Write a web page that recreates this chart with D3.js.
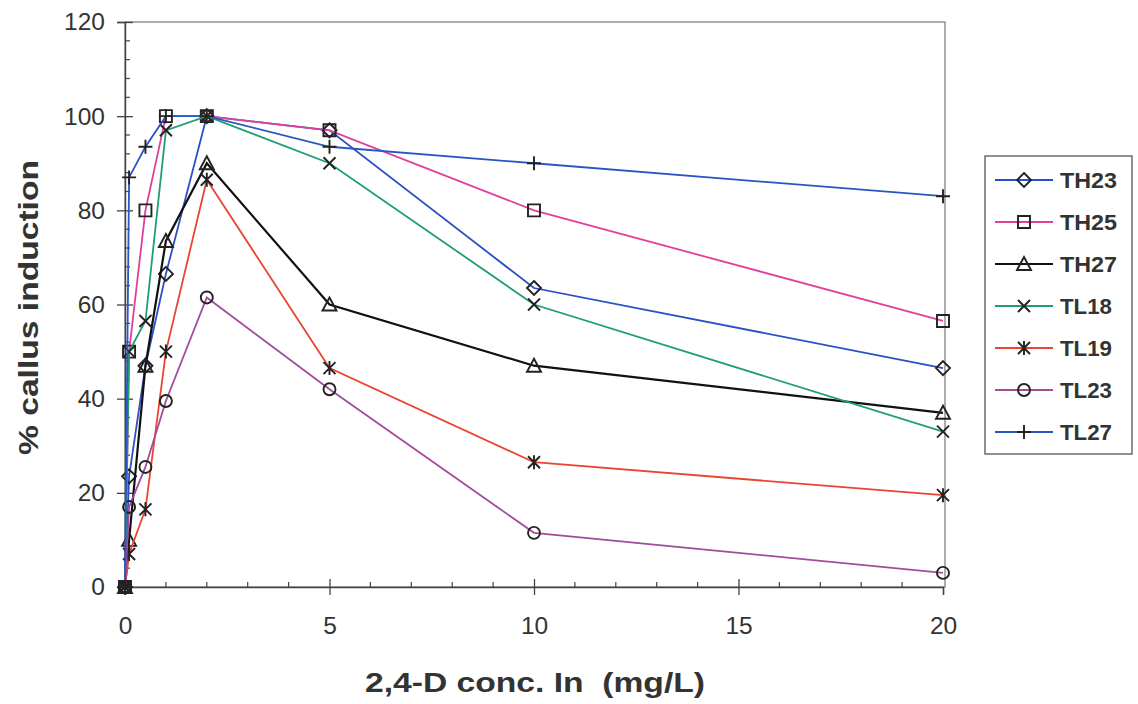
<!DOCTYPE html>
<html>
<head>
<meta charset="utf-8">
<script src="https://cdn.jsdelivr.net/npm/d3@7"></script>
<style>
  body { margin: 0; background: #fff; }
  svg { display: block; font-family: "Liberation Sans", Arial, sans-serif; }
</style>
</head>
<body>
<div id="chart"></div>
<script>
// Concentrations of 2,4-D (mg/L)
const conc = [0, 0.1, 0.5, 1, 2, 5, 10, 20];

// % callus induction per genotype
const TH23 = [0, 23.5, 47, 66.5, 100, 97, 63.5, 46.5];
const TH25 = [0, 50, 80, 100, 100, 97, 80, 56.5];
const TH27 = [0, 10, 47, 73.5, 90, 60, 47, 37];
const TL18 = [0, 50, 56.5, 97, 100, 90, 60, 33];
const TL19 = [0, 7, 16.5, 50, 86.5, 46.5, 26.5, 19.5];
const TL23 = [0, 17, 25.5, 39.5, 61.5, 42, 11.5, 3];
const TL27 = [0, 87, 93.5, 100, 100, 93.5, 90, 83];

const seriesNames = ["TH23", "TH25", "TH27", "TL18", "TL19", "TL23", "TL27"];
const seriesValues = [TH23, TH25, TH27, TL18, TL19, TL23, TL27];
const colors = ["#2b4fc4", "#e0409c", "#111111", "#1f9e72", "#ea4530", "#a24c9c", "#2a55c2"];
const markers = ["diamond", "square", "triangle", "cross", "star", "circle", "plus"];

const xTicks = [0, 5, 10, 15, 20];
const yTicks = [0, 20, 40, 60, 80, 100, 120];

const width = 1138, height = 704;
const plot = { left: 125, right: 945, top: 22, bottom: 587 };

const x = d3.scaleLinear().domain([0, 20]).range([plot.left, plot.left + 818]);
const y = d3.scaleLinear().domain([0, 120]).range([plot.bottom, plot.top]);

const svg = d3.select("#chart").append("svg")
    .attr("width", width)
    .attr("height", height);

// plot frame
svg.append("rect")
    .attr("x", plot.left).attr("y", plot.top)
    .attr("width", plot.right - plot.left).attr("height", plot.bottom - plot.top)
    .attr("fill", "none").attr("stroke", "#777").attr("stroke-width", 1.2);

// minor ticks (inside)
const axisColor = "#444";
svg.append("g").selectAll("line")
    .data(d3.range(0, 121, 4).filter(v => v % 20 !== 0))
    .join("line")
    .attr("x1", plot.left).attr("x2", plot.left + 5)
    .attr("y1", d => y(d)).attr("y2", d => y(d))
    .attr("stroke", axisColor).attr("stroke-width", 1.2);

svg.append("g").selectAll("line")
    .data(d3.range(1, 20).filter(v => v % 5 !== 0))
    .join("line")
    .attr("x1", d => x(d)).attr("x2", d => x(d))
    .attr("y1", plot.bottom).attr("y2", plot.bottom - 5)
    .attr("stroke", axisColor).attr("stroke-width", 1.2);

// axes with major ticks crossing
const yAxis = svg.append("g")
    .attr("transform", `translate(${plot.left},0)`)
    .call(d3.axisLeft(y).tickValues(yTicks).tickSize(8).tickPadding(12));
yAxis.selectAll(".tick line").attr("x2", 8).attr("x1", -8);

const xAxis = svg.append("g")
    .attr("transform", `translate(0,${plot.bottom})`)
    .call(d3.axisBottom(x).tickValues(xTicks).tickSize(8).tickPadding(22));
xAxis.selectAll(".tick line").attr("y1", -8).attr("y2", 8);

[yAxis, xAxis].forEach(a => {
  a.select(".domain").attr("stroke", axisColor).attr("stroke-width", 1.4);
  a.selectAll(".tick line").attr("stroke", axisColor).attr("stroke-width", 1.3);
  a.selectAll(".tick text").attr("font-size", 24.5).attr("fill", "#333")
      .attr("font-family", "Liberation Sans, Arial, sans-serif");
});
xAxis.selectAll(".tick line").filter(d => d === 20).attr("y1", 0);

// marker shapes
function markerPath(type, s) {
  const h = s / 2;
  switch (type) {
    case "diamond": return `M0,${-h - 1}L${h + 1},0L0,${h + 1}L${-h - 1},0Z`;
    case "square": return `M${-h},${-h}H${h}V${h}H${-h}Z`;
    case "triangle": return `M0,${-h - 1}L${h + 1},${h}L${-h - 1},${h}Z`;
    case "cross": return `M${-h},${-h}L${h},${h}M${h},${-h}L${-h},${h}`;
    case "star": return `M${-h},${-h}L${h},${h}M${h},${-h}L${-h},${h}M0,${-h - 1}V${h + 1}`;
    case "plus": return `M${-h - 1},0H${h + 1}M0,${-h - 1}V${h + 1}`;
  }
}
function drawMarker(g, type, cx, cy) {
  const s = 12;
  if (type === "circle") {
    g.append("circle").attr("cx", cx).attr("cy", cy).attr("r", 6)
        .attr("fill", "none").attr("stroke", "#222").attr("stroke-width", 1.9);
  } else {
    g.append("path").attr("d", markerPath(type, s))
        .attr("transform", `translate(${cx},${cy})`)
        .attr("fill", "none").attr("stroke", "#222").attr("stroke-width", 1.9);
  }
}

const line = d3.line().x(d => x(d[0])).y(d => y(d[1]));

seriesNames.forEach((name, i) => {
  const pts = conc.map((c, j) => [c, seriesValues[i][j]]);
  const g = svg.append("g");
  g.append("path").datum(pts)
      .attr("d", line)
      .attr("fill", "none")
      .attr("stroke", colors[i])
      .attr("stroke-width", i === 2 ? 2.2 : 1.8);
  pts.forEach(p => drawMarker(g, markers[i], x(p[0]), y(p[1])));
});

// axis titles
svg.append("text")
    .attr("x", 365).attr("y", 692)
    .attr("textLength", 340).attr("lengthAdjust", "spacingAndGlyphs")
    .style("white-space", "pre")
    .attr("font-size", 28).attr("font-weight", "bold").attr("fill", "#333")
    .text("2,4-D conc. In  (mg/L)");

svg.append("text")
    .attr("transform", `translate(38,455) rotate(-90)`)
    .attr("textLength", 295).attr("lengthAdjust", "spacingAndGlyphs")
    .attr("font-size", 28).attr("font-weight", "bold").attr("fill", "#333")
    .text("% callus induction");

// legend
const legend = svg.append("g");
legend.append("rect")
    .attr("x", 985).attr("y", 156).attr("width", 147).attr("height", 298)
    .attr("fill", "#fff").attr("stroke", "#555").attr("stroke-width", 1.3);

seriesNames.forEach((name, i) => {
  const ly = 180 + i * 42;
  const lg = legend.append("g");
  lg.append("line").attr("x1", 995).attr("x2", 1053).attr("y1", ly).attr("y2", ly)
      .attr("stroke", colors[i]).attr("stroke-width", 1.8);
  drawMarker(lg, markers[i], 1024, ly);
  lg.append("text").attr("x", 1060).attr("y", ly + 8)
      .attr("textLength", name === "TH23" || name === "TH25" || name === "TH27" ? 57 : 52)
      .attr("lengthAdjust", "spacingAndGlyphs")
      .attr("font-size", 22).attr("font-weight", "bold").attr("fill", "#333")
      .text(name);
});
</script>
</body>
</html>
